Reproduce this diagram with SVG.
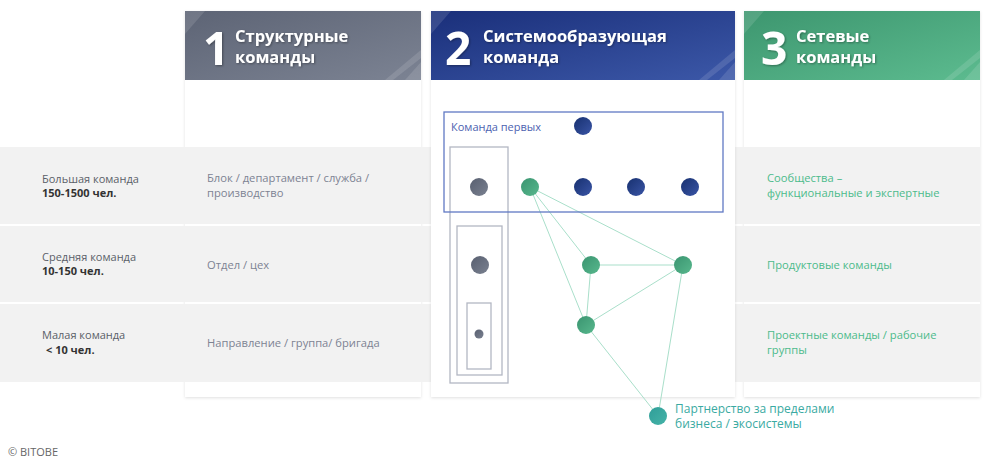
<svg xmlns="http://www.w3.org/2000/svg" width="1001" height="464" viewBox="0 0 1001 464">
<defs>
<style>
.t{font-family:"Open Sans","Noto Sans","DejaVu Sans",sans-serif}
.hd{font-family:"Open Sans","Noto Sans",sans-serif;font-weight:700;fill:#fff}
.num{font-size:46px}
.ttl{font-size:16.5px}
.lbl{font-size:11px;fill:#5a5f68}
.lblb{font-size:11px;fill:#333;font-weight:700}
.c1{font-size:11.2px;fill:#7d8392}
.c3{font-size:11.2px;fill:#4cbb8b}
.band{fill:#f2f2f2}
.card{fill:#fff;filter:url(#sh)}
.box{fill:none;stroke:#b3b7c3;stroke-width:1.3}
.edge{stroke:#a9dfca;stroke-width:1;fill:none}
.stripe{fill:#fff;opacity:0.12}
</style>
<filter id="sh" x="-10%" y="-10%" width="120%" height="120%">
<feDropShadow dx="0" dy="1" stdDeviation="1.5" flood-color="#000" flood-opacity="0.12"/>
</filter>
<filter id="ts" x="-10%" y="-10%" width="120%" height="130%">
<feDropShadow dx="1" dy="1" stdDeviation="0.8" flood-color="#000" flood-opacity="0.35"/>
</filter>
<linearGradient id="g1" x1="0" y1="0" x2="1" y2="1">
<stop offset="0" stop-color="#5d6475"/><stop offset="1" stop-color="#7c8393"/>
</linearGradient>
<linearGradient id="g2" x1="0" y1="0" x2="1" y2="1">
<stop offset="0" stop-color="#1a2f7a"/><stop offset="1" stop-color="#3c58a8"/>
</linearGradient>
<linearGradient id="g3" x1="0" y1="0" x2="1" y2="1">
<stop offset="0" stop-color="#3d966f"/><stop offset="1" stop-color="#5cbb8f"/>
</linearGradient>
<linearGradient id="gb" x1="0" y1="0" x2="1" y2="1">
<stop offset="0" stop-color="#17306f"/><stop offset="1" stop-color="#3a55a6"/>
</linearGradient>
<linearGradient id="gg" x1="0" y1="0" x2="1" y2="1">
<stop offset="0" stop-color="#3a9470"/><stop offset="1" stop-color="#58b88d"/>
</linearGradient>
<linearGradient id="ggr" x1="0" y1="0" x2="1" y2="1">
<stop offset="0" stop-color="#585f70"/><stop offset="1" stop-color="#7a8190"/>
</linearGradient>
<linearGradient id="gt" x1="0" y1="0" x2="1" y2="1">
<stop offset="0" stop-color="#2f9e98"/><stop offset="1" stop-color="#46b3a8"/>
</linearGradient>
</defs>
<rect width="1001" height="464" fill="#fff"/>

<g id="card1">
<rect class="card" x="185" y="11" width="236" height="386"/>
</g>
<g id="card3">
<rect class="card" x="744" y="11" width="236" height="386"/>
</g>

<g id="rows">
<rect class="band" x="0" y="147" width="980" height="77"/>
<rect class="band" x="0" y="226" width="980" height="76"/>
<rect class="band" x="0" y="304" width="980" height="78"/>
</g>

<g id="card2">
<rect class="card" x="431" y="11" width="304" height="386"/>
</g>

<g id="header1">
<rect x="185" y="11" width="236" height="69" fill="url(#g1)"/>
<polygon class="stripe" points="185,11 205,11 185,34"/>
<polygon class="stripe" points="421,50 421,58 393,80 385,80"/>
<polygon class="stripe" points="421,62 421,80 405,80"/>
<text class="hd num" x="203" y="65" filter="url(#ts)">1</text>
<text class="hd ttl" x="235" y="42" filter="url(#ts)">Структурные</text>
<text class="hd ttl" x="235" y="63" filter="url(#ts)">команды</text>
</g>

<g id="header2">
<rect x="431" y="11" width="304" height="69" fill="url(#g2)"/>
<polygon class="stripe" points="431,11 451,11 431,34"/>
<polygon class="stripe" points="735,50 735,58 707,80 699,80"/>
<polygon class="stripe" points="735,62 735,80 719,80"/>
<text class="hd num" x="445" y="65" filter="url(#ts)">2</text>
<text class="hd ttl" x="483" y="42" filter="url(#ts)">Системообразующая</text>
<text class="hd ttl" x="483" y="63" filter="url(#ts)">команда</text>
</g>

<g id="header3">
<rect x="744" y="11" width="236" height="69" fill="url(#g3)"/>
<polygon class="stripe" points="744,11 764,11 744,34"/>
<polygon class="stripe" points="980,50 980,58 952,80 944,80"/>
<polygon class="stripe" points="980,62 980,80 964,80"/>
<text class="hd num" x="761" y="65" filter="url(#ts)">3</text>
<text class="hd ttl" x="796" y="42" filter="url(#ts)">Сетевые</text>
<text class="hd ttl" x="796" y="63" filter="url(#ts)">команды</text>
</g>

<g id="size-labels" class="t">
<text class="lbl" x="42" y="183">Большая команда</text>
<text class="lblb" x="42" y="197">150-1500 чел.</text>
<text class="lbl" x="42" y="261">Средняя команда</text>
<text class="lblb" x="42" y="275">10-150 чел.</text>
<text class="lbl" x="42" y="339">Малая команда</text>
<text class="lblb" x="46" y="354">&lt; 10 чел.</text>
</g>

<g id="structural-labels" class="t">
<text class="c1" x="207" y="182">Блок / департамент / служба /</text>
<text class="c1" x="207" y="197">производство</text>
<text class="c1" x="207" y="269">Отдел / цех</text>
<text class="c1" x="207" y="347">Направление / группа/ бригада</text>
</g>

<g id="network-labels" class="t">
<text class="c3" x="767" y="182">Сообщества –</text>
<text class="c3" x="767" y="197">функциональные и экспертные</text>
<text class="c3" x="767" y="269">Продуктовые команды</text>
<text class="c3" x="767" y="339">Проектные команды / рабочие</text>
<text class="c3" x="767" y="354">группы</text>
</g>

<g id="structure-boxes">
<rect class="box" x="450" y="147" width="58" height="236"/>
<rect class="box" x="457" y="226" width="45" height="149"/>
<rect class="box" x="467" y="303" width="24" height="66"/>
</g>

<g id="connectors">
<line class="edge" x1="530" y1="187" x2="591" y2="265"/>
<line class="edge" x1="530" y1="187" x2="683" y2="265"/>
<line class="edge" x1="530" y1="187" x2="586" y2="325"/>
<line class="edge" x1="591" y1="265" x2="683" y2="265"/>
<line class="edge" x1="591" y1="265" x2="586" y2="325"/>
<line class="edge" x1="683" y1="265" x2="586" y2="325"/>
<line class="edge" x1="586" y1="325" x2="658" y2="416"/>
<line class="edge" x1="683" y1="265" x2="658" y2="416"/>
</g>

<g id="first-team">
<rect x="444" y="112" width="279" height="100" fill="none" stroke="#6079c4" stroke-width="1.3"/>
<text class="t" x="451" y="131" font-size="11" fill="#4c62b0">Команда первых</text>
</g>

<g id="nodes">
<circle id="n-lead" cx="583" cy="126" r="9" fill="url(#gb)"/>
<circle id="n-gray1" cx="479" cy="187" r="9" fill="url(#ggr)"/>
<circle id="n-green1" cx="530" cy="187" r="9" fill="url(#gg)"/>
<circle id="n-blue1" cx="583" cy="187" r="9" fill="url(#gb)"/>
<circle id="n-blue2" cx="636" cy="187" r="9" fill="url(#gb)"/>
<circle id="n-blue3" cx="690" cy="187" r="9" fill="url(#gb)"/>
<circle id="n-gray2" cx="480" cy="265" r="9" fill="url(#ggr)"/>
<circle id="n-gray3" cx="479" cy="334" r="4.5" fill="url(#ggr)"/>
<circle id="n-green2" cx="591" cy="265" r="9" fill="url(#gg)"/>
<circle id="n-green3" cx="683" cy="265" r="9" fill="url(#gg)"/>
<circle id="n-green4" cx="586" cy="325" r="9" fill="url(#gg)"/>
<circle id="n-teal" cx="658" cy="416" r="9" fill="url(#gt)"/>
</g>

<g id="partner-label" class="t">
<text x="675" y="413" font-size="12" fill="#3aaaa2">Партнерство за пределами</text>
<text x="675" y="428" font-size="12" fill="#3aaaa2">бизнеса / экосистемы</text>
</g>

<text class="t" x="8" y="456" font-size="11" fill="#666">© BITOBE</text>
</svg>
